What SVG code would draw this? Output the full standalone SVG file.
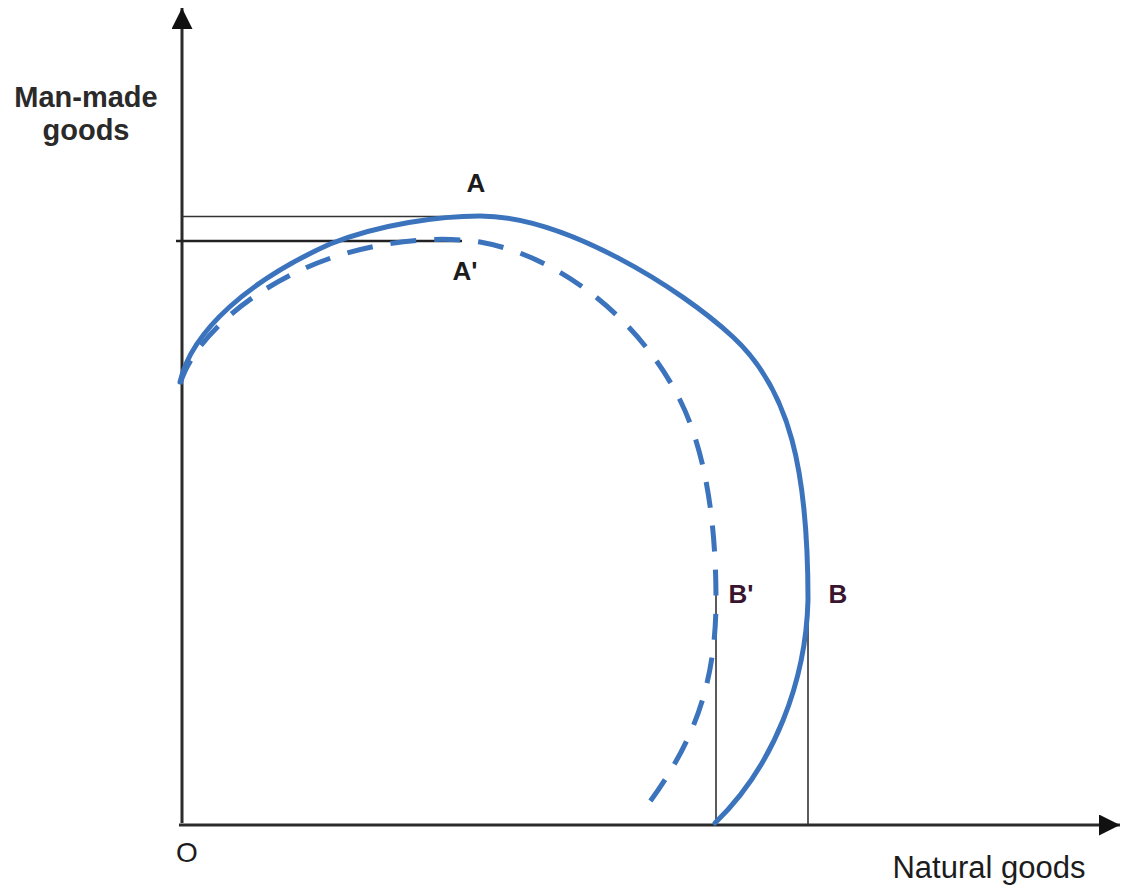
<svg xmlns="http://www.w3.org/2000/svg" width="1133" height="885" viewBox="0 0 1133 885">
<style>
.axis{stroke:#2b2b2b;stroke-width:3;fill:none}
.guide{stroke:#333;stroke-width:1.6;fill:none}
.ppf{stroke:#3b74bd;stroke-width:5;fill:none;stroke-linecap:round;stroke-linejoin:round}
.dash{stroke-dasharray:26 18;stroke-linecap:butt}
.lbl{font-family:"Liberation Sans",Arial,sans-serif;font-weight:bold;font-size:26px;fill:#1c1c1c}
.lblb{font-family:"Liberation Sans",Arial,sans-serif;font-weight:bold;font-size:26px;fill:#3a1530}
.ax{font-family:"Liberation Sans",Arial,sans-serif;font-size:31px;fill:#1c1c1c}
.axb{font-family:"Liberation Sans",Arial,sans-serif;font-weight:bold;font-size:29px;fill:#2a2a2a}
</style>
<defs>
<marker id="arr" viewBox="0 0 10 10" refX="10" refY="5" markerWidth="7" markerHeight="7" orient="auto" markerUnits="strokeWidth">
<path d="M0,0 L10,5 L0,10 z" fill="#111"/>
</marker>
</defs>
<rect width="1133" height="885" fill="#fff"/>
<g id="axes">
<line class="axis" x1="182" y1="823" x2="182" y2="8" marker-end="url(#arr)"/>
<line class="axis" x1="179" y1="825" x2="1120" y2="825" marker-end="url(#arr)"/>
</g>
<g id="connectors">
<line class="guide" x1="182" y1="216.5" x2="480" y2="216.5"/>
<line class="guide" style="stroke-width:2.6;stroke:#222" x1="176" y1="241" x2="462" y2="241"/>
<line class="guide" x1="716" y1="590" x2="716" y2="825"/>
<line class="guide" x1="808" y1="590" x2="808" y2="825"/>
</g>
<g id="ppf-original">
<path class="ppf" d="M180,382 C192,330 250,280 330,244 C380,224 440,216 480,216 C565,216 680,288 733,337 C790,390 808,470 808,600 C806,680 775,765 715,823"/>
</g>
<g id="ppf-shifted">
<path class="ppf dash" d="M180,384 C195,335 260,280 340,255 C390,240 440,236 480,242 C560,256 640,320 680,400 C705,450 716,520 716,600 C716,690 690,750 640,815"/>
</g>
<g id="labels">
<text class="axb" x="86" y="107" text-anchor="middle">Man-made</text>
<text class="axb" x="86" y="140" text-anchor="middle">goods</text>
<text class="lbl" x="476" y="192" text-anchor="middle">A</text>
<text class="lbl" x="465" y="280" text-anchor="middle">A'</text>
<text class="lblb" x="741" y="603" text-anchor="middle">B'</text>
<text class="lblb" x="838" y="603" text-anchor="middle">B</text>
<text class="ax" x="187" y="862" text-anchor="middle" style="font-size:28px">O</text>
<text class="ax" x="989" y="878" text-anchor="middle">Natural goods</text>
</g>
</svg>
